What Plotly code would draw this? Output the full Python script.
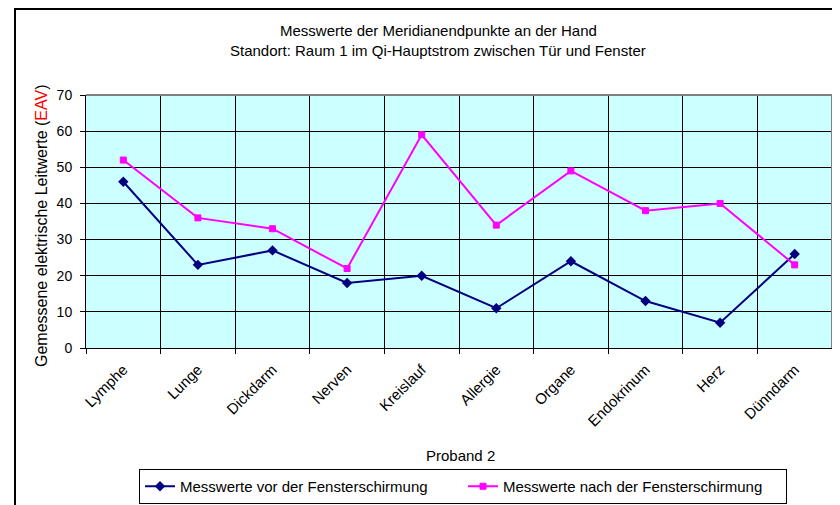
import plotly.graph_objects as go

categories = ["Lymphe", "Lunge", "Dickdarm", "Nerven", "Kreislauf", "Allergie",
              "Organe", "Endokrinum", "Herz", "Dünndarm"]
vor = [46, 23, 27, 18, 20, 11, 24, 13, 7, 26]
nach = [52, 36, 33, 22, 59, 34, 49, 38, 40, 23]
series_names = ["Messwerte vor der Fensterschirmung", "Messwerte nach der Fensterschirmung"]
title_lines = ["Messwerte der Meridianendpunkte an der Hand",
               "Standort: Raum 1 im Qi-Hauptstrom zwischen Tür und Fenster"]
x_title = "Proband 2"
y_title = "Gemessene elektrische Leitwerte (<span style='color:#FF0000'>EAV</span>)"

FONT = "Liberation Sans, Arial, sans-serif"
FS = 15
OFF = 8  # page body margin offset
W, H = 840 - OFF, 505 - OFF
# plot area in window coordinates: x 86..832, y 95..348
L = 86 - OFF
T = 95 - OFF
R = W - (832 - OFF)
B = H - (348 - OFF)
pw = W - L - R
ph = H - T - B

def px(x):
    return (x - OFF - L) / pw

def py(y):
    return (H - B - (y - OFF)) / ph

fig = go.Figure()
fig.add_trace(go.Scatter(x=categories, y=vor, name=series_names[0], mode="lines+markers",
                         line=dict(color="#000080", width=2),
                         marker=dict(symbol="diamond", size=8, color="#000080")))
fig.add_trace(go.Scatter(x=categories, y=nach, name=series_names[1], mode="lines+markers",
                         line=dict(color="#FF00FF", width=2),
                         marker=dict(symbol="square", size=6, color="#FF00FF",
                                     line=dict(color="#FF00FF", width=1))))

fig.update_layout(
    width=W, height=H,
    margin=dict(l=L, r=R, t=T, b=B, pad=0, autoexpand=False),
    paper_bgcolor="white", plot_bgcolor="#CCFFFF",
    font=dict(family=FONT, size=FS, color="black"),
    showlegend=True,
    legend=dict(orientation="h", x=px(463), xanchor="center", y=py(504), yanchor="bottom",
                bordercolor="black", borderwidth=1, font=dict(size=FS),
                entrywidth=278, entrywidthmode="pixels", tracegroupgap=0,
                itemwidth=30),
)
fig.update_xaxes(type="category", tickson="boundaries", ticks="outside", ticklen=5,
                 tickcolor="black", showgrid=True, gridcolor="black", gridwidth=1,
                 showline=True, linecolor="black", linewidth=1, tickangle=-45,
                 tickfont=dict(size=FS), range=[-0.5, 9.5], automargin=False,
                 ticklabelstandoff=6)
fig.update_yaxes(range=[0, 70], dtick=10, ticks="outside", ticklen=5, tickcolor="black",
                 showgrid=True, gridcolor="black", gridwidth=1, showline=True,
                 linecolor="black", linewidth=1, zeroline=False, tickfont=dict(size=14),
                 automargin=False, ticklabelstandoff=5)

# plot area top/right gray border
fig.add_shape(type="line", xref="paper", yref="paper", x0=0, x1=1, y0=1, y1=1,
              line=dict(color="#808080", width=2))
fig.add_shape(type="line", xref="paper", yref="paper", x0=1, x1=1, y0=0, y1=1,
              line=dict(color="#808080", width=2))
# outer chart border (top edge kept just inside the figure)
fig.add_shape(type="rect", xref="paper", yref="paper", x0=px(15), x1=px(860),
              y0=py(530), y1=py(OFF + 1), line=dict(color="black", width=2), layer="below")

fig.add_annotation(text=title_lines[0], xref="paper", yref="paper", x=px(438), y=py(31),
                   xanchor="center", yanchor="middle", showarrow=False, font=dict(size=FS))
fig.add_annotation(text=title_lines[1], xref="paper", yref="paper", x=px(438), y=py(51),
                   xanchor="center", yanchor="middle", showarrow=False, font=dict(size=FS))
fig.add_annotation(text=x_title, xref="paper", yref="paper", x=px(460), y=py(455),
                   xanchor="center", yanchor="middle", showarrow=False, font=dict(size=FS))
fig.add_annotation(text=y_title, xref="paper", yref="paper", x=px(41), y=py(226),
                   xanchor="center", yanchor="middle", showarrow=False, textangle=-90,
                   font=dict(size=16))

fig.write_html("out.html")
